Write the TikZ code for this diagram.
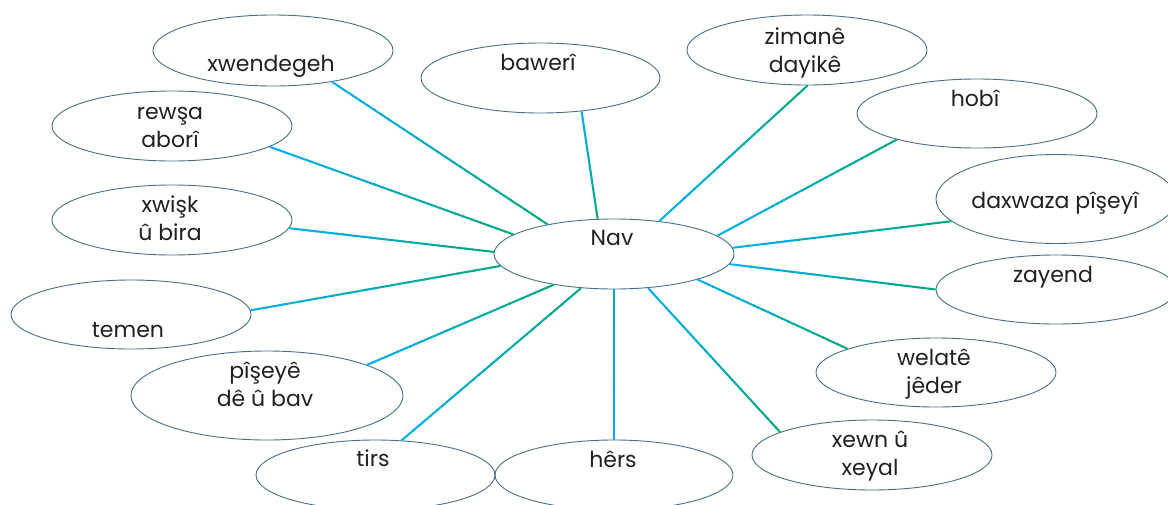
\documentclass[tikz,border=0pt]{standalone}
\usepackage{fontspec}
\setmainfont{Poppins}
\usetikzlibrary{shapes.geometric,calc}

\definecolor{linkblue}{RGB}{0,174,239}
\definecolor{linkgreen}{RGB}{0,166,126}
\definecolor{linkmid}{RGB}{0,168,196}
\definecolor{rim}{RGB}{70,110,140}
\definecolor{ink}{RGB}{35,31,32}

\tikzset{
  bubble/.style 2 args={ellipse, draw=rim, line width=0.9pt, inner sep=0pt,
    minimum width=#1pt, minimum height=#2pt},
  word/.style={text=ink, font=\fontsize{22}{28}\selectfont, inner sep=0pt,
    anchor=base, align=center},
  link/.style={line width=2pt, line cap=butt}
}

% straight connector whose colour runs from #3 at (#1) to #4 at (#2)
\newcommand\gradlink[4]{%
  \foreach \k in {0,...,29}{%
    \pgfmathsetmacro\ta{\k/30}%
    \pgfmathsetmacro\tb{min(1,(\k+1.2)/30)}%
    \pgfmathtruncatemacro\pc{100-100*(\k+0.5)/30}%
    \draw[link, draw=#3!\pc!#4] ($(#1)!\ta!(#2)$) -- ($(#1)!\tb!(#2)$);
  }%
}

\begin{document}
\begin{tikzpicture}[x=1pt, y=-1pt]
\useasboundingbox (0,0) rectangle (1168,504);
\clip (0,0) rectangle (1168,504);

% outline bubbles
\node[bubble={240}{70}] (nav) at (614,254) {};
\node[bubble={240}{71}] (xw)  at (273,50.5) {};
\node[bubble={240}{70}] (rew) at (172,126) {};
\node[bubble={240}{70}] (xwi) at (172,220) {};
\node[bubble={240}{69}] (tem) at (131,314.5) {};
\node[bubble={272}{89}] (pis) at (267,395.5) {};
\node[bubble={239}{70}] (tir) at (375.5,475) {};
\node[bubble={238}{70}] (her) at (614,475) {};
\node[bubble={240}{70}] (xew) at (872,455) {};
\node[bubble={240}{69}] (wel) at (936,372.5) {};
\node[bubble={240}{69}] (zay) at (1056,289.5) {};
\node[bubble={240}{89}] (dax) at (1056,199) {};
\node[bubble={240}{69}] (hob) at (977,113.5) {};
\node[bubble={240}{70}] (zim) at (807,50) {};
\node[bubble={239}{70}] (baw) at (540.5,78) {};

% labels (anchored on the baseline of their last line)
\node[word] (navT) at (612,245) {Nav};
\node[word] (xwT)  at (271,71)  {xwendegeh};
\node[word] (rewT) at (170,147) {rewşa\\aborî};
\node[word] (xwiT) at (170,240) {xwişk\\û bira};
\node[word] (temT) at (128,337) {temen};
\node[word] (pisT) at (265,406) {pîşeyê\\dê û bav};
\node[word] (tirT) at (373,466) {tirs};
\node[word] (herT) at (613,467) {hêrs};
\node[word] (xewT) at (870,475) {xewn û\\xeyal};
\node[word] (welT) at (934,393) {welatê\\jêder};
\node[word] (zayT) at (1053,282) {zayend};
\node[word] (daxT) at (1055,208) {daxwaza pîşeyî};
\node[word] (hobT) at (975,106) {hobî};
\node[word] (zimT) at (805,72)  {zimanê\\dayikê};
\node[word] (bawT) at (538,70)  {bawerî};

% connectors from the centre bubble
\gradlink{nav.156}{xw.332}{linkgreen}{linkblue}
\gradlink{nav.169}{rew.348}{linkgreen}{linkblue}
\gradlink{nav.179}{xwi.356}{linkgreen}{linkblue}
\gradlink{nav.186}{tem.2}{linkgreen}{linkblue}
\gradlink{nav.207}{pis.17}{linkgreen}{linkblue}
\gradlink{nav.226}{tir.53}{linkgreen}{linkblue}
\gradlink{nav.270}{her.90}{linkmid}{linkblue}
\gradlink{nav.315}{xew.166}{linkblue}{linkgreen}
\gradlink{nav.343}{wel.165}{linkblue}{linkgreen}
\gradlink{nav.355}{zay.180}{linkblue}{linkgreen}
\gradlink{nav.3}{dax.192}{linkblue}{linkgreen}
\gradlink{nav.10}{hob.198}{linkblue}{linkgreen}
\gradlink{nav.36}{zim.271}{linkblue}{linkgreen}
\gradlink{nav.115}{baw.321}{linkgreen}{linkblue}
\end{tikzpicture}
\end{document}
